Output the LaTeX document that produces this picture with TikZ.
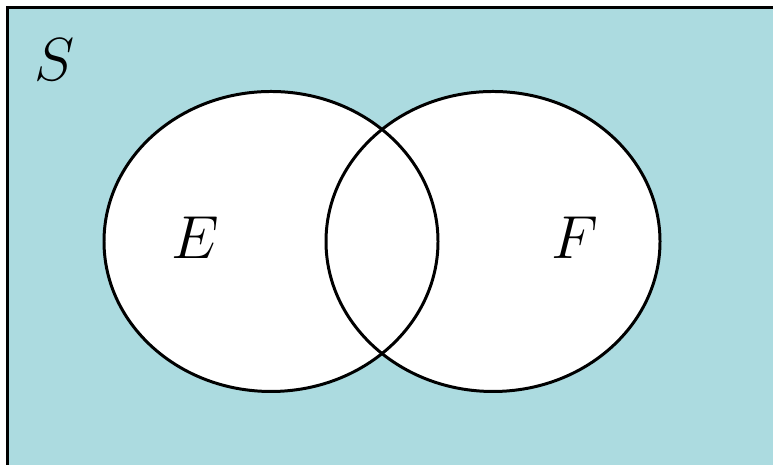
\documentclass[tikz,border=0pt]{standalone}
\usepackage{tikz}
\usetikzlibrary{positioning}
\definecolor{spacefill}{RGB}{172,219,224}

\begin{document}
\begin{tikzpicture}[
x=0.01cm,y=-0.01cm,
setline/.style={line width=0.85pt},
setfill/.style={fill=white},
setlabel/.style={font=\fontsize{16.5}{20}\selectfont,inner sep=0pt}
]
\useasboundingbox (0,0) rectangle (773,465);
\clip (0,0) rectangle (773,465);
\draw[setline,fill=spacefill] (7.5,7.5) rectangle (800,500);

\coordinate (e) at (271,241.5);
\coordinate (f) at (493,241.5);
\fill[setfill] (e) ellipse [x radius=167,y radius=150];
\fill[setfill] (f) ellipse [x radius=167,y radius=150];
\draw[setline] (e) ellipse [x radius=167,y radius=150];
\draw[setline] (f) ellipse [x radius=167,y radius=150];

\node[setlabel] (s) at (55,60) {$S$};
\node[setlabel] (elabel) at (195,238) {$E$};
\node[setlabel] (flabel) at (575,238) {$F$};
\end{tikzpicture}
\end{document}
